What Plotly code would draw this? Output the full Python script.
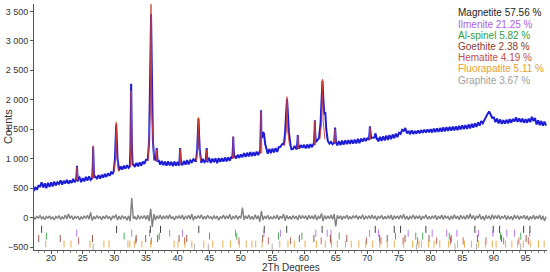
import numpy as np
import plotly.graph_objects as go

# observed background, 0.25 deg grid from 17.25 to 98.25
bg_start = 17.25
bg_step = 0.25
obs_bg = [
    450, 520, 470, 540, 530, 600, 510, 580, 500, 590, 520, 600,
    530, 610, 545, 600, 570, 630, 560, 625, 580, 640, 575, 630, 590, 655, 600, 660, 610, 680, 600, 670,
    615, 690, 630, 700, 640, 715, 650, 695, 665, 720, 660, 725, 680, 740, 690, 750, 710, 770, 740, 800,
    790, 860, 800, 870, 815, 880, 830, 890, 845, 905, 850, 910, 860, 930, 870, 935, 880, 950, 910, 980,
    980, 1040, 1000, 1000, 940, 985, 920, 975, 900, 960, 890, 950, 880, 955, 885, 945, 875, 950, 880, 945,
    880, 950, 890, 960, 900, 975, 905, 970, 940, 990, 960, 1010, 935, 1000, 930, 995, 940, 1005, 935, 1000,
    930, 1000, 940, 1005, 925, 1010, 945, 1010, 950, 1020, 955, 1020, 965, 1035, 990, 1050, 1005, 1065, 1015, 1070,
    1025, 1095, 1030, 1100, 1040, 1110, 1045, 1110, 1050, 1120, 1060, 1130, 1120, 1140, 1080, 1160, 1085, 1165, 1095, 1170,
    1105, 1180, 1115, 1195, 1200, 1240, 1260, 1300, 1320, 1250, 1200, 1160, 1165, 1215, 1170, 1225, 1180, 1230, 1185, 1235,
    1175, 1240, 1180, 1245, 1195, 1255, 1260, 1300, 1330, 1400, 1450, 1500, 1450, 1350, 1300, 1255, 1285, 1245, 1300, 1260,
    1225, 1300, 1230, 1305, 1240, 1310, 1245, 1315, 1250, 1320, 1255, 1325, 1260, 1335, 1265, 1340, 1290, 1350, 1300, 1345,
    1340, 1380, 1350, 1420, 1400, 1320, 1295, 1370, 1300, 1380, 1310, 1390, 1320, 1400, 1330, 1410, 1350, 1425, 1365, 1440,
    1420, 1490, 1470, 1520, 1430, 1470, 1415, 1480, 1420, 1470, 1425, 1480, 1430, 1485, 1440, 1490, 1445, 1495, 1450, 1500,
    1445, 1510, 1450, 1515, 1455, 1520, 1460, 1530, 1465, 1535, 1470, 1540, 1475, 1545, 1480, 1550, 1485, 1555, 1495, 1565,
    1500, 1570, 1505, 1580, 1515, 1590, 1525, 1600, 1540, 1615, 1560, 1640, 1600, 1660, 1700, 1760, 1800, 1740, 1690, 1700,
    1620, 1680, 1600, 1665, 1590, 1655, 1595, 1660, 1600, 1670, 1610, 1675, 1630, 1700, 1625, 1685, 1620, 1680, 1610, 1670,
    1610, 1680, 1620, 1710, 1640, 1690, 1580, 1650, 1570, 1640, 1560, 1630, 1560,
]

# observed peaks, one list of points per reflection group
obs_peaks = [
    ([23.95, 24.05, 24.1, 24.15, 24.25], [640, 760, 880, 760, 650]),
    ([26.5, 26.6, 26.65, 26.7, 26.8], [670, 900, 1200, 900, 680]),
    ([29.9, 30.1, 30.2, 30.3, 30.4, 30.5, 30.7], [790, 1000, 1300, 1580, 1300, 1000, 850]),
    ([32.45, 32.55, 32.62, 32.66, 32.7, 32.78, 32.9], [870, 1200, 1900, 2270, 1900, 1200, 890]),
    ([35.3, 35.5, 35.65, 35.75, 35.8, 35.85, 35.95, 36.1, 36.3], [1000, 1300, 2000, 3000, 3450, 2950, 2000, 1300, 1000]),
    ([36.55, 36.65, 36.7, 36.75, 36.85], [960, 1100, 1180, 1100, 950]),
    ([40.25, 40.35, 40.4, 40.45, 40.55], [905, 1050, 1180, 1050, 920]),
    ([42.9, 43.1, 43.2, 43.3, 43.4, 43.5, 43.7], [960, 1150, 1400, 1680, 1400, 1150, 980]),
    ([44.45, 44.55, 44.6, 44.65, 44.75], [960, 1080, 1180, 1080, 970]),
    ([48.65, 48.75, 48.8, 48.85, 48.95], [1000, 1200, 1370, 1200, 1020]),
    ([53.05, 53.15, 53.2, 53.25, 53.35, 53.5, 53.65, 53.85, 54.1], [1090, 1400, 1820, 1400, 1350, 1450, 1430, 1250, 1130]),
    ([56.8, 57.0, 57.15, 57.3, 57.45, 57.6, 57.85], [1230, 1450, 1750, 2010, 1750, 1450, 1230]),
    ([58.85, 58.95, 59.0, 59.05, 59.15], [1170, 1300, 1400, 1300, 1180]),
    ([61.55, 61.65, 61.7, 61.75, 61.85], [1230, 1450, 1650, 1450, 1280]),
    ([62.35, 62.6, 62.75, 62.9, 63.05, 63.2, 63.35, 63.5, 63.75], [1350, 1600, 2000, 2320, 2000, 1750, 1790, 1500, 1300]),
    ([64.75, 64.85, 64.9, 64.95, 65.05], [1270, 1420, 1530, 1420, 1270]),
    ([70.25, 70.35, 70.4, 70.45, 70.6, 71.1, 71.3, 71.5], [1320, 1450, 1550, 1450, 1350, 1360, 1430, 1350]),
]

# calculated peaks: centre, top, half width, base
calc_pos = [24.1, 26.65, 30.3, 32.66, 35.8, 36.7, 40.4, 43.3, 44.6, 48.8, 53.2, 57.3, 59.0, 61.7, 62.9, 64.9, 70.4]
calc_top = [860, 1220, 1620, 2150, 3620, 1150, 1160, 1700, 1150, 1380, 1800, 2050, 1380, 1640, 2350, 1500, 1530]
calc_hw = [0.12, 0.12, 0.35, 0.15, 0.45, 0.12, 0.12, 0.35, 0.12, 0.12, 0.12, 0.4, 0.12, 0.12, 0.4, 0.12, 0.12]
calc_base = [630, 670, 780, 870, 960, 960, 905, 960, 960, 1000, 1090, 1220, 1170, 1230, 1330, 1270, 1320]

# difference curve, same 0.25 deg grid
diff = [
    10, -30, 25, -15, 40, -20, 15, -35, 20, -10, 30, -25,
    15, -40, 20, -10, 35, -30, 10, -20, 45, -25, 60, -15, 30, -35, 20, -10, 25, -40, 15, -20,
    30, -15, 40, -30, 90, -50, 20, -25, 35, -10, 15, -35, 25, -20, 40, -15, 20, -45, 30, -10,
    50, -40, 25, -30, 35, -15, 20, -45, 30, -60, 330, -20, 15, -35, 40, -25, 20, -10, 35, -30,
    40, -60, 150, -160, 60, -40, 30, -20, 45, -30, 20, -15, 35, -25, 50, -20, 15, -40, 25, -10,
    30, -20, 45, -35, 20, -15, 40, -30, 60, -45, 25, -20, 35, -15, 50, -30, 20, -25, 40, -10,
    15, -30, 35, -20, 25, -45, 20, -15, 45, -25, 30, -20, 55, -35, 20, -10, 40, -30, 25, -15,
    170, -40, 30, -20, 45, -30, 20, -35, 50, -25, 35, -70, 110, -40, 25, -20, 40, -30, 15, -25,
    30, -20, 45, -35, 25, -15, 60, -50, 40, -25, 20, -30, 35, -15, 25, -40, 45, -20, 30, -10,
    25, -35, 40, -20, 30, -25, 50, -40, 20, -15, 70, -60, 35, -25, 30, -20, 45, -30, 60, -150,
    40, -20, 30, -35, 25, -15, 45, -30, 20, -25, 35, -10, 40, -30, 25, -20, 50, -35, 20, -15,
    35, -25, 45, -20, 30, -40, 25, -15, 40, -30, 20, -25, 35, -20, 45, -35, 25, -10, 30, -25,
    40, -20, 55, -30, 25, -35, 20, -15, 45, -25, 30, -20, 35, -40, 25, -15, 50, -30, 20, -25,
    30, -15, 40, -35, 25, -20, 45, -30, 35, -10, 20, -40, 30, -25, 50, -20, 25, -35, 40, -15,
    20, -30, 45, -25, 60, -20, 35, -40, 30, -15, 55, -30, 25, -45, 40, -20, 30, -35, 50, -25,
    35, -20, 45, -30, 25, -15, 40, -35, 30, -25, 20, -40, 45, -20, 35, -30, 25, -15, 40, -25,
    30, -45, 20, -25, 40, -30, 25, -20, 45, -35, 30, -60, 20,
]

# phase reflection markers
phases = ["Magnetite", "Ilmenite", "Al-spinel", "Goethite", "Hematite", "Fluorapatite", "Graphite"]
phase_pct = ["57.56", "21.25", "5.82", "2.38", "4.19", "5.11", "3.67"]
phase_colors = ["#222222", "#b060f0", "#2e9e3e", "#8a3b2a", "#c0504d", "#e8a030", "#a0a0a0"]
phase_level = [-200, -265, -315, -355, -395, -450, -500]
phase_ticks = [
    [18.5, 30.35, 35.7, 37.3, 43.35, 53.7, 57.25, 62.85, 71.25, 74.25, 75.25, 79.25, 87.0, 89.9, 90.9, 94.7, 95.7],
    [24.05, 32.75, 35.55, 38.75, 40.75, 49.15, 53.65, 56.25, 61.85, 63.65, 64.25, 70.35, 71.75, 76.45, 80.25,
     82.55, 84.15, 87.55, 89.85, 92.05, 93.25, 95.65],
    [19.25, 31.55, 37.1, 45.05, 49.35, 55.95, 59.65, 65.55, 74.45, 77.65, 78.75, 82.95, 91.05, 94.25],
    [18.05, 21.45, 26.55, 33.45, 34.95, 36.85, 40.23, 41.45, 53.45, 59.25, 61.55, 64.15, 66.75, 71.95, 73.15,
     75.95, 79.75, 83.25, 87.4, 91.2, 95.1],
    [24.35, 33.4, 35.85, 41.1, 49.7, 54.35, 57.85, 62.7, 64.25, 69.85, 72.15, 75.65, 77.95, 80.95, 83.15, 85.15,
     88.75, 91.55, 93.95, 95.45],
    [17.05, 19.15, 22.05, 23.15, 26.15, 28.35, 29.15, 32.15, 32.45, 33.15, 34.35, 35.75, 39.45, 40.05, 41.15,
     42.25, 44.15, 45.55, 47.15, 48.35, 49.75, 50.85, 51.75, 52.35, 53.35, 56.15, 57.45, 58.45, 60.15, 61.95,
     63.35, 64.35, 65.25, 66.55, 67.45, 68.65, 69.75, 70.85, 71.95, 73.15, 74.25, 75.75, 77.15, 78.15, 78.55,
     79.65, 80.55, 81.45, 82.85, 84.25, 85.35, 86.45, 87.55, 88.65, 89.75, 90.35, 91.85, 92.85, 93.75, 94.65,
     95.75, 97.05, 97.95],
    [26.65, 42.65, 44.85, 54.95, 77.75, 83.85, 87.25, 94.25],
]

x_ticks = list(range(20, 100, 5))
y_ticks = list(range(-500, 4000, 500))

# assemble observed line: background points outside peak windows plus peak points
bg_x = bg_start + bg_step * np.arange(len(obs_bg))
pts = []
for x, y in zip(bg_x, obs_bg):
    if not any(px[0] < x < px[-1] for px, _ in obs_peaks):
        pts.append((x, y))
for px, py in obs_peaks:
    pts.extend(zip(px, py))
pts.sort()
obs_x = [p[0] for p in pts]
obs_y = [p[1] for p in pts]

calc_x, calc_y = [], []
for c, t, hw, b in zip(calc_pos, calc_top, calc_hw, calc_base):
    calc_x += [c - hw, c - hw * 0.3, c, c + hw * 0.3, c + hw, None]
    calc_y += [b, b + (t - b) * 0.3, t, b + (t - b) * 0.3, b, None]

diff_x = bg_start + bg_step * np.arange(len(diff))

fig = go.Figure()

fig.add_trace(
    go.Scatter(x=diff_x, y=diff, mode="lines", line=dict(color="#808080", width=1.4), showlegend=False)
)
fig.add_trace(
    go.Scatter(x=obs_x, y=obs_y, mode="lines", line=dict(color="#1c1cd8", width=2), showlegend=False)
)
fig.add_trace(
    go.Scatter(x=calc_x, y=calc_y, mode="lines", line=dict(color="#d8402c", width=0.9), showlegend=False)
)

for idx, name in enumerate(phases):
    fig.add_trace(
        go.Scatter(
            x=phase_ticks[idx],
            y=[phase_level[idx]] * len(phase_ticks[idx]),
            mode="markers",
            marker=dict(symbol="line-ns", size=5, line=dict(color=phase_colors[idx], width=1)),
            opacity=0.85,
            showlegend=False,
        )
    )

# phase fractions, top right
label_y = [12.5, 24, 35.5, 46.5, 57.5, 69, 80]
for idx, name in enumerate(phases):
    fig.add_annotation(
        text=f"{name} {phase_pct[idx]} %",
        xref="paper",
        yref="paper",
        x=(456 - 34) / (547 - 34),
        y=1 - (label_y[idx] - 4) / 246,
        xanchor="left",
        yanchor="middle",
        showarrow=False,
        font=dict(color=phase_colors[idx], size=10),
    )

# axis titles
fig.add_annotation(
    text="Counts", xref="paper", yref="paper", x=-26 / 513, y=0.5, textangle=-90,
    xanchor="center", yanchor="middle", showarrow=False, font=dict(size=11),
)
fig.add_annotation(
    text="2Th Degrees", xref="paper", yref="paper", x=0.5, y=-17 / 246,
    xanchor="center", yanchor="middle", showarrow=False, font=dict(size=10),
)

fig.update_layout(
    width=550,
    height=272,
    margin=dict(l=34, r=3, t=4, b=22, pad=0),
    plot_bgcolor="white",
    paper_bgcolor="white",
    font=dict(family="Arial, Liberation Sans, sans-serif", size=10, color="#333333"),
    separators=". ",
    xaxis=dict(
        range=[17.3, 98.4],
        tickvals=x_ticks,
        automargin=False,
        showgrid=False,
        zeroline=False,
        showline=True,
        linecolor="#555555",
        linewidth=1,
        ticks="outside",
        ticklen=3,
        tickcolor="#555555",
        ticklabelstandoff=-4,
        minor=dict(dtick=1, ticks="outside", ticklen=2, tickcolor="#888888"),
        tickfont=dict(size=9),
    ),
    yaxis=dict(
        range=[-550, 3625],
        tickvals=y_ticks,
        separatethousands=True,
        automargin=False,
        showgrid=False,
        zeroline=False,
        showline=True,
        linecolor="#555555",
        linewidth=1,
        ticks="outside",
        ticklen=3,
        tickcolor="#555555",
        tickfont=dict(size=9),
    ),
)

# the page body keeps an 8px browser margin by default
fig.write_html(
    "out.html",
    config={"displayModeBar": False},
    post_script="document.body.style.margin = '0';",
)
